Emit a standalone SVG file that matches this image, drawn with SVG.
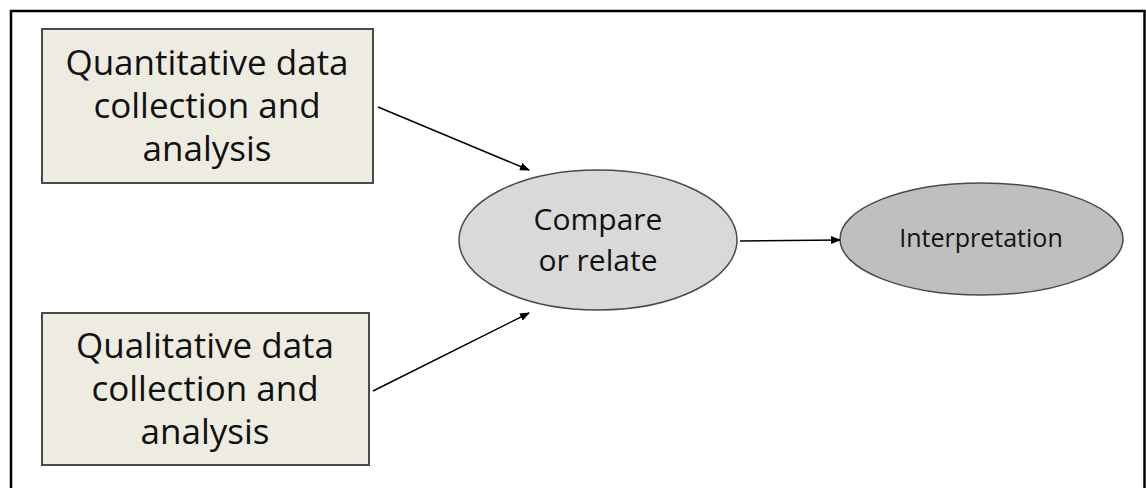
<svg xmlns="http://www.w3.org/2000/svg" width="1146" height="488" viewBox="0 0 1146 488">
<style>
.box{fill:#eeece1;stroke:#4a4a4a;stroke-width:2}
.ell1{fill:#d9d9d9;stroke:#4a4a4a;stroke-width:1.5}
.ell2{fill:#bfbfbf;stroke:#4a4a4a;stroke-width:1.5}
.t{font-family:"Open Sans","Liberation Sans",sans-serif;fill:#111;text-anchor:middle}
.conn{stroke:#000;stroke-width:1.5;fill:none;marker-end:url(#ah)}
</style>
<defs>
<marker id="ah" markerWidth="10" markerHeight="8" refX="9" refY="4" orient="auto" markerUnits="userSpaceOnUse">
<path d="M0,0 L10,4 L0,8 Z" fill="#000"/>
</marker>
</defs>
<rect x="0" y="0" width="1146" height="488" fill="#fff"/>
<path d="M11,488 V11 H1144.5 V488" fill="none" stroke="#000" stroke-width="2.5"/>
<g id="quant">
<rect class="box" x="42" y="29" width="331" height="154"/>
<text class="t" font-size="35"><tspan x="207" y="75">Quantitative data</tspan><tspan x="207" y="118">collection and</tspan><tspan x="207" y="161">analysis</tspan></text>
</g>
<g id="qual">
<rect class="box" x="42" y="313" width="327" height="152"/>
<text class="t" font-size="35"><tspan x="205" y="358">Qualitative data</tspan><tspan x="205" y="401">collection and</tspan><tspan x="205" y="444">analysis</tspan></text>
</g>
<g id="compare">
<ellipse class="ell1" cx="598" cy="240" rx="139" ry="70"/>
<text class="t" font-size="30"><tspan x="598" y="230">Compare</tspan><tspan x="598" y="271">or relate</tspan></text>
</g>
<g id="interp">
<ellipse class="ell2" cx="981.5" cy="239" rx="141.5" ry="56"/>
<text class="t" font-size="25" x="981" y="247">Interpretation</text>
</g>
<g id="connectors">
<line class="conn" x1="378" y1="107" x2="529" y2="170"/>
<line class="conn" x1="373" y1="391" x2="529" y2="313"/>
<line class="conn" x1="740" y1="241" x2="840" y2="240"/>
</g>
</svg>
